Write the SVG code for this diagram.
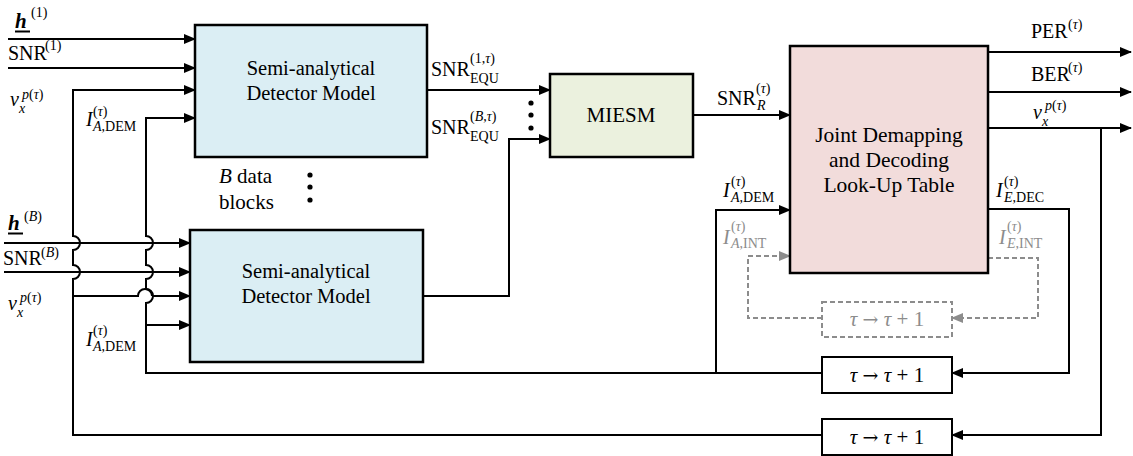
<svg xmlns="http://www.w3.org/2000/svg" width="1133" height="456" viewBox="0 0 1133 456" font-family="'Liberation Serif', 'DejaVu Serif', serif">
<defs>
<marker id="ah" markerUnits="userSpaceOnUse" markerWidth="12" markerHeight="10" refX="11" refY="5" orient="auto"><path d="M0,0 L12,5 L0,10 Z" fill="#000"/></marker>
<marker id="ahg" markerUnits="userSpaceOnUse" markerWidth="12" markerHeight="10" refX="11" refY="5" orient="auto"><path d="M0,0 L12,5 L0,10 Z" fill="#8c8c8c"/></marker>
<style>
text{font-family:'Liberation Serif','DejaVu Serif',serif;fill:#000}
.m{font-size:20px}
.s{font-size:14px}
.i{font-style:italic}
.b{font-size:20.5px;text-anchor:middle}
.t{font-size:21px;text-anchor:middle}
.g{fill:#8c8c8c}
.ar{font-family:'DejaVu Serif',serif;font-size:19px}
.ln{fill:none;stroke:#000;stroke-width:2}
.lg{fill:none;stroke:#8c8c8c;stroke-width:2;stroke-dasharray:5,3}
.box{stroke:#000;stroke-width:2.5}
</style>
</defs>

<g id="connectors">
<path class="ln" d="M8,39 H195" marker-end="url(#ah)"/>
<path class="ln" d="M8,68 H195" marker-end="url(#ah)"/>
<path class="ln" d="M822,435 H73 V279 A7,7 0 0 0 73,265 V250 A7,7 0 0 0 73,236 V90 H195" marker-end="url(#ah)"/>
<path class="ln" d="M73,296 H138 A7,7 0 0 1 152,296"/>
<path class="ln" d="M152,296 H190" marker-end="url(#ah)"/>
<path class="ln" d="M822,373 H146 V303 A7,7 0 0 0 146,289 V279 A7,7 0 0 0 146,265 V250 A7,7 0 0 0 146,236 V118 H195" marker-end="url(#ah)"/>
<path class="ln" d="M146,325 H190" marker-end="url(#ah)"/>
<path class="ln" d="M716,373 V210 H790" marker-end="url(#ah)"/>
<path class="ln" d="M4,243 H190" marker-end="url(#ah)"/>
<path class="ln" d="M4,272 H190" marker-end="url(#ah)"/>
<path class="ln" d="M427,90 H550" marker-end="url(#ah)"/>
<path class="ln" d="M423,296 H509 V139 H550" marker-end="url(#ah)"/>
<path class="ln" d="M693,115 H790" marker-end="url(#ah)"/>
<path class="ln" d="M988,52 H1131" marker-end="url(#ah)"/>
<path class="ln" d="M988,92 H1131" marker-end="url(#ah)"/>
<path class="ln" d="M988,128 H1131" marker-end="url(#ah)"/>
<path class="ln" d="M1101,128 V435 H952" marker-end="url(#ah)"/>
<path class="ln" d="M988,209 H1069 V373 H952" marker-end="url(#ah)"/>
<path class="lg" d="M822,318 H748 V256 H790" marker-end="url(#ahg)"/>
<path class="lg" d="M988,258 H1038 V318 H952" marker-end="url(#ahg)"/>
<circle cx="531" cy="103" r="2.6"/><circle cx="531" cy="115" r="2.6"/><circle cx="531" cy="128" r="2.6"/>
<circle cx="310" cy="175" r="2.6"/><circle cx="310" cy="187" r="2.6"/><circle cx="310" cy="200" r="2.6"/>
</g>

<g id="det1">
<rect class="box" x="195" y="25" width="232" height="132" fill="#dbeef4"/>
<text class="b" x="311" y="75">Semi-analytical</text>
<text class="b" x="311" y="100">Detector Model</text>
</g>
<g id="det2">
<rect class="box" x="190" y="230" width="233" height="132" fill="#dbeef4"/>
<text class="b" x="306" y="278">Semi-analytical</text>
<text class="b" x="306" y="303">Detector Model</text>
</g>
<g id="miesm">
<rect class="box" x="550" y="74" width="143" height="83" fill="#ebf1de"/>
<text class="b" x="621" y="122" style="font-size:21px">MIESM</text>
</g>
<g id="joint">
<rect class="box" x="790" y="46" width="198" height="227" fill="#f2dcdb"/>
<text class="b" x="889" y="142" style="font-size:21.5px">Joint Demapping</text>
<text class="b" x="889" y="167" style="font-size:21.5px">and Decoding</text>
<text class="b" x="889" y="192" style="font-size:21.5px">Look-Up Table</text>
</g>
<g id="tau-dashed">
<rect x="822" y="302" width="130" height="35" fill="none" stroke="#8c8c8c" stroke-width="2" stroke-dasharray="5,3"/>
<text class="t g" x="887" y="326"><tspan class="i">τ</tspan> <tspan class="ar">→</tspan> <tspan class="i">τ</tspan> + 1</text>
</g>
<g id="tau1">
<rect x="822" y="357" width="130" height="36" fill="#fff" stroke="#000" stroke-width="2"/>
<text class="t" x="887" y="382"><tspan class="i">τ</tspan> <tspan class="ar">→</tspan> <tspan class="i">τ</tspan> + 1</text>
</g>
<g id="tau2">
<rect x="822" y="419" width="130" height="36" fill="#fff" stroke="#000" stroke-width="2"/>
<text class="t" x="887" y="444"><tspan class="i">τ</tspan> <tspan class="ar">→</tspan> <tspan class="i">τ</tspan> + 1</text>
</g>

<g id="block-label">
<text x="219" y="183" style="font-size:21px"><tspan class="i">B</tspan> data</text>
<text x="219" y="209" style="font-size:21px">blocks</text>
</g>

<g id="labels">
<text x="15" y="28" style="font-size:21px;font-weight:bold;font-style:italic">h</text>
<path d="M15,31.5 H30" stroke="#000" stroke-width="2"/>
<text class="s" x="31" y="17">(1)</text>
<text class="m" x="8" y="60">SNR</text>
<text class="s" x="45" y="50">(1)</text>
<text class="m i" x="10" y="106">v</text>
<text class="s i" x="19" y="113">x</text>
<text class="s" x="22" y="99"><tspan class="i">p</tspan>(<tspan class="i">τ</tspan>)</text>
<text class="m i" x="86" y="126">I</text>
<text class="s" x="93" y="116">(<tspan class="i">τ</tspan>)</text>
<text class="s" x="93" y="131"><tspan class="i">A</tspan>,DEM</text>

<text x="8" y="230" style="font-size:21px;font-weight:bold;font-style:italic">h</text>
<path d="M8,233.5 H23" stroke="#000" stroke-width="2"/>
<text class="s" x="24" y="221">(<tspan class="i">B</tspan>)</text>
<text class="m" x="3" y="265">SNR</text>
<text class="s" x="41" y="257">(<tspan class="i">B</tspan>)</text>
<text class="m i" x="8" y="310">v</text>
<text class="s i" x="17" y="317">x</text>
<text class="s" x="20" y="302"><tspan class="i">p</tspan>(<tspan class="i">τ</tspan>)</text>
<text class="m i" x="86" y="346">I</text>
<text class="s" x="93" y="335">(<tspan class="i">τ</tspan>)</text>
<text class="s" x="93" y="351"><tspan class="i">A</tspan>,DEM</text>

<text class="m" x="431" y="76">SNR</text>
<text class="s" x="470" y="63">(1,<tspan class="i">τ</tspan>)</text>
<text class="s" x="470" y="83">EQU</text>
<text class="m" x="431" y="134">SNR</text>
<text class="s" x="470" y="121">(<tspan class="i">B</tspan>,<tspan class="i">τ</tspan>)</text>
<text class="s" x="470" y="141">EQU</text>

<text class="m" x="717" y="105">SNR</text>
<text class="s" x="756" y="93">(<tspan class="i">τ</tspan>)</text>
<text class="s i" x="757" y="110">R</text>

<text class="m" x="1031" y="38">PER</text>
<text class="s" x="1068" y="29">(<tspan class="i">τ</tspan>)</text>
<text class="m" x="1031" y="81">BER</text>
<text class="s" x="1068" y="72">(<tspan class="i">τ</tspan>)</text>
<text class="m i" x="1033" y="119">v</text>
<text class="s i" x="1042" y="126">x</text>
<text class="s" x="1045" y="110"><tspan class="i">p</tspan>(<tspan class="i">τ</tspan>)</text>

<text class="m i" x="723" y="197">I</text>
<text class="s" x="731" y="186">(<tspan class="i">τ</tspan>)</text>
<text class="s" x="731" y="202"><tspan class="i">A</tspan>,DEM</text>
<text class="m i" x="996" y="197">I</text>
<text class="s" x="1004" y="186">(<tspan class="i">τ</tspan>)</text>
<text class="s" x="1004" y="202"><tspan class="i">E</tspan>,DEC</text>
<text class="m i g" x="723" y="244">I</text>
<text class="s g" x="731" y="231">(<tspan class="i">τ</tspan>)</text>
<text class="s g" x="731" y="248"><tspan class="i">A</tspan>,INT</text>
<text class="m i g" x="999" y="244">I</text>
<text class="s g" x="1007" y="231">(<tspan class="i">τ</tspan>)</text>
<text class="s g" x="1007" y="248"><tspan class="i">E</tspan>,INT</text>
</g>
</svg>
